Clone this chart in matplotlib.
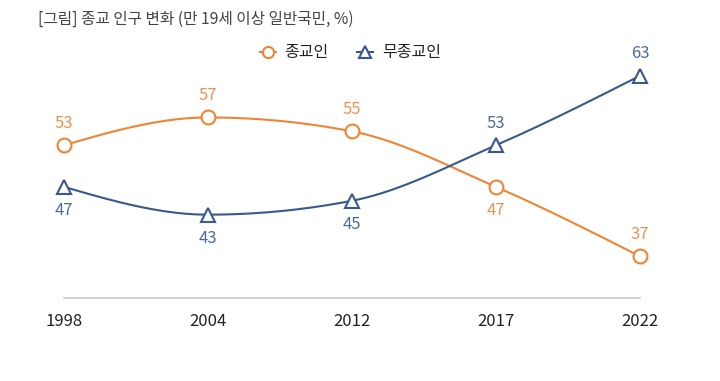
import numpy as np
import matplotlib
matplotlib.use("Agg")
import matplotlib.pyplot as plt

plt.rcParams['font.family'] = ['Noto Sans CJK KR', 'DejaVu Sans']

years = ["1998", "2004", "2012", "2017", "2022"]
religious = [53, 57, 55, 47, 37]
nonreligious = [47, 43, 45, 53, 63]
title = "[그림] 종교 인구 변화 (만 19세 이상 일반국민, %)"
series_names = ["종교인", "무종교인"]

# label placement (1 = above, -1 = below)
religious_pos = [1, 1, 1, -1, 1]
nonreligious_pos = [-1, -1, -1, 1, 1]

ORANGE = "#EE8535"
BLUE = "#37598F"
ORANGE_T = "#EE924E"
BLUE_T = "#4A6C9C"


def monotone(xs, ys, n=40):
    xs = np.asarray(xs, float); ys = np.asarray(ys, float)
    h = np.diff(xs); d = np.diff(ys) / h
    m = np.zeros_like(ys)
    for i in range(1, len(ys) - 1):
        s0, s1 = d[i - 1], d[i]
        p = (s0 * h[i] + s1 * h[i - 1]) / (h[i - 1] + h[i])
        m[i] = (np.sign(s0) + np.sign(s1)) * min(abs(s0), abs(s1), 0.5 * abs(p))
    m[0] = (3 * d[0] - m[1]) / 2
    m[-1] = (3 * d[-1] - m[-2]) / 2
    X, Y = [], []
    for i in range(len(h)):
        t = np.linspace(0, 1, n)
        h00 = 2 * t**3 - 3 * t**2 + 1
        h10 = t**3 - 2 * t**2 + t
        h01 = -2 * t**3 + 3 * t**2
        h11 = t**3 - t**2
        X.extend(xs[i] + t * h[i])
        Y.extend(h00 * ys[i] + h10 * h[i] * m[i] + h01 * ys[i + 1] + h11 * h[i] * m[i + 1])
    return np.array(X), np.array(Y)


fig = plt.figure(figsize=(7.2, 3.81), dpi=100)
ax = fig.add_axes([64 / 720, 83 / 381, 576 / 720, 250 / 381])
x = np.arange(len(years))

for vals, col, mk in [(religious, ORANGE, 'o'), (nonreligious, BLUE, '^')]:
    sx, sy = monotone(x, vals)
    ax.plot(sx, sy, color=col, lw=1.5, zorder=2, clip_on=False)
    ax.plot(x, vals, linestyle='none', marker=mk, ms=10,
            mfc='white', mec=col, mew=1.5, zorder=3, clip_on=False)

for vals, poss, col in [(religious, religious_pos, ORANGE_T), (nonreligious, nonreligious_pos, BLUE_T)]:
    for i, (v, p) in enumerate(zip(vals, poss)):
        ax.annotate(str(v), (i, v), xytext=(0, 16 if p > 0 else -17), textcoords='offset points',
                    ha='center', va='center', color=col, fontsize=12)

ax.set_xlim(0, 4)
ax.set_ylim(31, 67)
for s in ['top', 'right', 'left']:
    ax.spines[s].set_visible(False)
ax.spines['bottom'].set_color('#CCCCCC')
ax.spines['bottom'].set_linewidth(1.2)
ax.set_yticks([])
ax.set_xticks(x)
ax.set_xticklabels(years, fontsize=12, color='#222222')
ax.tick_params(axis='x', length=0, pad=11)

fig.text(38 / 720, 1 - 19 / 381, title, fontsize=11.3, color='#444444', va='center', ha='left')

# legend
ly = 1 - 52 / 381
fig.lines.append(plt.Line2D([260 / 720, 276 / 720], [ly, ly], color=ORANGE, lw=1.5, transform=fig.transFigure))
fig.lines.append(plt.Line2D([268 / 720], [ly], marker='o', ms=8, mfc='white', mec=ORANGE, mew=1.5,
                            linestyle='none', transform=fig.transFigure))
fig.text(284 / 720, ly, series_names[0], fontsize=11.5, color='#222222', va='center', ha='left',
         fontweight='medium')
fig.lines.append(plt.Line2D([357 / 720, 373 / 720], [ly, ly], color=BLUE, lw=1.5, transform=fig.transFigure))
fig.lines.append(plt.Line2D([365 / 720], [ly], marker='^', ms=8, mfc='white', mec=BLUE, mew=1.5,
                            linestyle='none', transform=fig.transFigure))
fig.text(382 / 720, ly, series_names[1], fontsize=11.5, color='#222222', va='center', ha='left',
         fontweight='medium')

fig.savefig("out.png", dpi=100, facecolor='white')
